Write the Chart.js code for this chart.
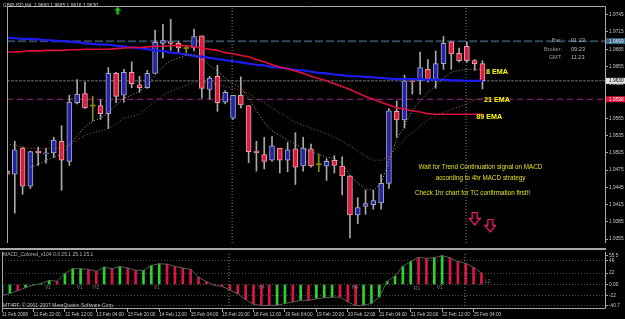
<!DOCTYPE html>
<html><head><meta charset="utf-8">
<script src="https://cdn.jsdelivr.net/npm/chart.js@4.4.0/dist/chart.umd.min.js"></script>
<style>
html,body{margin:0;padding:0;background:#000;width:625px;height:319px;overflow:hidden;}
#wa{position:absolute;left:0;top:0;width:625px;height:250px;}
#wb{position:absolute;left:0;top:248px;width:625px;height:71px;}
canvas{display:block;}
</style></head><body>
<div id="wa"><canvas id="ca" width="625" height="250"></canvas></div>
<div id="wb"><canvas id="cb" width="625" height="71"></canvas></div>
<script>
// ---------- DATA (bar index -1 .. 60, H4 GBPUSD) ----------
const firstIndex = -1;
const opens  = [1.9473,1.9468,1.9513,1.9447,1.9508,1.9503,1.9505,1.9525,1.9490,1.9592,1.9608,1.9587,1.9587,1.9573,1.9643,1.9605,1.9645,1.9623,1.9618,1.9643,1.9695,1.9698,1.9695,1.9687,1.9687,1.9708,1.9615,1.9638,1.9593,1.9565,1.9605,1.9587,1.9508,1.9502,1.9492,1.9513,1.9492,1.9512,1.9482,1.9512,1.9485,1.9482,1.9492,1.9482,1.9465,1.9397,1.9412,1.9415,1.9418,1.9452,1.9577,1.9562,1.9630,1.9630,1.9650,1.9633,1.9660,1.9698,1.9678,1.9690,1.9665,1.9660];
const highs  = [1.9485,1.9525,1.9515,1.9508,1.9515,1.9513,1.9532,1.9552,1.9605,1.9632,1.9628,1.9603,1.9597,1.9653,1.9645,1.9650,1.9663,1.9638,1.9648,1.9718,1.9728,1.9737,1.9698,1.9692,1.9720,1.9708,1.9638,1.9657,1.9613,1.9605,1.9637,1.9587,1.9525,1.9532,1.9533,1.9513,1.9523,1.9540,1.9532,1.9520,1.9503,1.9495,1.9500,1.9498,1.9465,1.9427,1.9440,1.9440,1.9467,1.9582,1.9595,1.9640,1.9633,1.9680,1.9667,1.9682,1.9707,1.9698,1.9687,1.9698,1.9667,1.9665];
const lows   = [1.9465,1.9400,1.9433,1.9443,1.9483,1.9487,1.9497,1.9440,1.9483,1.9590,1.9582,1.9560,1.9563,1.9547,1.9592,1.9593,1.9618,1.9610,1.9617,1.9643,1.9670,1.9683,1.9678,1.9675,1.9682,1.9600,1.9598,1.9577,1.9590,1.9563,1.9583,1.9488,1.9473,1.9477,1.9490,1.9470,1.9472,1.9450,1.9473,1.9480,1.9472,1.9457,1.9470,1.9432,1.9357,1.9382,1.9398,1.9407,1.9407,1.9443,1.9532,1.9548,1.9607,1.9607,1.9628,1.9617,1.9650,1.9650,1.9663,1.9662,1.9648,1.9616];
const closes = [1.9468,1.9510,1.9447,1.9507,1.9505,1.9505,1.9527,1.9492,1.9593,1.9607,1.9583,1.9587,1.9573,1.9643,1.9603,1.9645,1.9625,1.9618,1.9643,1.9697,1.9700,1.9695,1.9687,1.9687,1.9707,1.9617,1.9635,1.9592,1.9610,1.9605,1.9588,1.9507,1.9505,1.9490,1.9517,1.9492,1.9510,1.9480,1.9513,1.9482,1.9485,1.9490,1.9483,1.9465,1.9397,1.9410,1.9417,1.9422,1.9452,1.9578,1.9562,1.9630,1.9628,1.9653,1.9633,1.9660,1.9695,1.9677,1.9665,1.9665,1.9660,1.9630];

const ema8  = [null,null,null,1.9480,1.9485,1.9492,1.9497,1.9502,1.9518,1.9535,1.9550,1.9560,1.9565,1.9575,1.9588,1.9600,1.9605,1.9612,1.9622,1.9640,1.9655,1.9665,1.9670,1.9675,1.9675,1.9668,1.9657,1.9647,1.9635,1.9625,1.9618,1.9600,1.9578,1.9558,1.9543,1.9535,1.9527,1.9520,1.9512,1.9507,1.9502,1.9498,1.9495,1.9487,1.9465,1.9453,1.9442,1.9440,1.9452,1.9492,1.9528,1.9552,1.9578,1.9595,1.9610,1.9622,1.9635,1.9645,1.9648,1.9650,1.9650,1.9650];
const ema21 = [1.9520,1.9518,1.9515,1.9513,1.9512,1.9512,1.9513,1.9515,1.9518,1.9528,1.9535,1.9540,1.9543,1.9547,1.9555,1.9565,1.9568,1.9572,1.9583,1.9595,1.9605,1.9612,1.9617,1.9622,1.9628,1.9628,1.9627,1.9623,1.9620,1.9617,1.9613,1.9608,1.9598,1.9592,1.9583,1.9575,1.9567,1.9558,1.9553,1.9548,1.9543,1.9538,1.9532,1.9525,1.9517,1.9508,1.9500,1.9492,1.9492,1.9498,1.9513,1.9528,1.9540,1.9552,1.9562,1.9570,1.9575,1.9580,1.9585,1.9590,1.9597,1.9600];
const ema89 = [1.9680,1.9680,1.9681,1.9682,1.9682,1.9683,1.9683,1.9683,1.9684,1.9684,1.9685,1.9685,1.9685,1.9685,1.9686,1.9687,1.9688,1.9688,1.9689,1.9690,1.9690,1.9691,1.9692,1.9691,1.9689,1.9687,1.9685,1.9683,1.9679,1.9677,1.9674,1.9672,1.9667,1.9663,1.9658,1.9654,1.9651,1.9647,1.9643,1.9638,1.9634,1.9630,1.9625,1.9620,1.9615,1.9609,1.9603,1.9598,1.9593,1.9588,1.9583,1.9581,1.9578,1.9576,1.9573,1.9572,1.9572,1.9572,1.9572,1.9572,1.9572,1.9572];
const slowMA = [1.9705,1.9704,1.9703,1.9703,1.9702,1.9701,1.9700,1.9699,1.9698,1.9697,1.9695,1.9694,1.9693,1.9693,1.9691,1.9690,1.9688,1.9687,1.9685,1.9683,1.9682,1.9679,1.9678,1.9676,1.9673,1.9672,1.9670,1.9668,1.9666,1.9664,1.9662,1.9660,1.9658,1.9657,1.9654,1.9653,1.9651,1.9649,1.9648,1.9646,1.9644,1.9643,1.9641,1.9640,1.9638,1.9638,1.9637,1.9636,1.9635,1.9634,1.9633,1.9633,1.9633,1.9633,1.9632,1.9632,1.9632,1.9631,1.9631,1.9630,1.9630,1.9630];

const levelHigh = 1.9699;   // dashed slate line
const bidPrice  = 1.9630;   // bid line
const levelLow  = 1.9598;   // dashed magenta line
const vLines = [27.88, 57.9];

const priceTicks = [1.9745,1.9715,1.9685,1.9655,1.9625,1.9595,1.9565,1.9535,1.9505,1.9475,1.9445,1.9415,1.9385,1.9355];
const timeTickIdx = [-1,3,7,11,15,19,23,27,31,35,39,43,47,51,55,59];
const timeLabels = ['11 Feb 2008','11 Feb 20:00','12 Feb 12:00','13 Feb 04:00','13 Feb 20:00','14 Feb 12:00','15 Feb 04:00','15 Feb 20:00','18 Feb 12:00','19 Feb 04:00','19 Feb 20:00','20 Feb 12:00','21 Feb 04:00','21 Feb 20:00','22 Feb 12:00','25 Feb 04:00'];

const macdHist = [-21,-17,-12,-6,-1,2,8,6,21,30.5,30.5,29,25.5,33.6,30.5,34.8,31.7,27.4,27.4,36.7,39.8,39.2,34.8,31.7,29.3,14.3,5.6,-1.2,-3.7,-10.6,-18,-29.2,-37.9,-40.5,-40.5,-39.8,-36.7,-33.6,-30.5,-30.5,-27.4,-25.5,-24.3,-24.3,-33.6,-40.7,-39.8,-36.7,-24.3,6.2,16.2,34.8,44.2,52.2,50.4,51.6,55.5,51.6,44.2,41.0,33.0,22.4];
const macdState = ['up','up','dn','up','up','up','up','dn','up','up','up','dn','dn','up','dn','up','dn','dn','up','up','up','dn','dn','dn','dn','dn','dn','dn','dn','dn','dn','dn','dn','dn','dn','up','up','dn','up','dn','up','up','up','dn','dn','dn','up','up','up','up','up','up','up','dn','dn','up','up','dn','dn','dn','dn','dn'];
const macdTickValues = [55.5,46,22,0,-22,-40.7];
const macdTickLabels = ['55.5','46','22','0.00','-22','-40.7'];
const macdMarks = [{x:4.85,y:-6,t:'V1'},{x:8.9,y:-6,t:'V1'},{x:11,y:-6,t:'H2'},{x:18.7,y:-6,t:'V1'},{x:32,y:-6,t:'H4'},{x:43.9,y:-6,t:'H4'},{x:51.8,y:-8,t:'R1'},{x:54.7,y:-6,t:'V1'},{x:60.8,y:5,t:'L2'}];

const downSignals = [{x:59,y:1.9390},{x:61,y:1.9378}];
const upSignals = [{x:13.2,y:1.9752}];
const emaTags = [{x:60.45,y:1.9645,t:'8 EMA'},{x:60.2,y:1.95967,t:'21 EMA'},{x:59.2,y:1.95667,t:'89 EMA'}];

// ---------- RENDER ----------
const X_MIN = -1, X_MAX = 75.85;
const P_MIN = 1.93483, P_MAX = 1.97583;
const M_MIN = -47.2, M_MAX = 62.87;
const FAM = '"Liberation Sans", Arial, sans-serif';
Chart.defaults.font.family = FAM;

const xs = opens.map((_, i) => i + firstIndex);
const kind = i => closes[i] > opens[i] ? 1 : (closes[i] < opens[i] ? -1 : 0);
const BULL = '#2424a8', BEAR = '#dc1c40', DOJI = '#8c8c00';

const wickData = xs.map((x, i) => ({x, y: [lows[i], highs[i]]}));
const bodyData = xs.map((x, i) => {
  let a = Math.min(opens[i], closes[i]), b = Math.max(opens[i], closes[i]);
  if (b - a < 0.0001) { const m = (a + b) / 2; a = m - 0.00009; b = m + 0.00009; }
  return {x, y: [a, b]};
});
function lineDS(arr, color, width, dash, order) {
  return {type: 'line', data: xs.map((x, i) => ({x, y: arr[i]})), borderColor: color, borderWidth: width,
    borderDash: dash || [], pointRadius: 0, fill: false, tension: 0, order};
}
function hLine(p, color, width, dash) {
  return {type: 'line', data: [{x: X_MIN, y: p}, {x: X_MAX, y: p}], borderColor: color, borderWidth: width,
    borderDash: dash || [], pointRadius: 0, fill: false, order: 6};
}
function vLineDS(x, lo, hi) {
  return {type: 'line', data: [{x, y: lo}, {x, y: hi}], borderColor: '#8a8a8a', borderWidth: 1,
    borderDash: [1, 2], pointRadius: 0, fill: false, order: 6};
}
function downArrowImg() {
  const c = document.createElement('canvas'); c.width = 12; c.height = 14;
  const g = c.getContext('2d'); g.strokeStyle = '#e8206a'; g.lineWidth = 1.3;
  g.beginPath(); g.moveTo(3.5, 0.7); g.lineTo(8.5, 0.7); g.lineTo(8.5, 6.5); g.lineTo(11.3, 6.5);
  g.lineTo(6, 13); g.lineTo(0.7, 6.5); g.lineTo(3.5, 6.5); g.closePath(); g.stroke(); return c;
}
function upArrowImg() {
  const c = document.createElement('canvas'); c.width = 8; c.height = 9;
  const g = c.getContext('2d'); g.fillStyle = '#30c030'; g.strokeStyle = '#106010'; g.lineWidth = 0.8;
  g.beginPath(); g.moveTo(4, 0.5); g.lineTo(7.5, 4.5); g.lineTo(5.3, 4.5); g.lineTo(5.3, 8.5); g.lineTo(2.7, 8.5);
  g.lineTo(2.7, 4.5); g.lineTo(0.5, 4.5); g.closePath(); g.fill(); g.stroke(); return c;
}
function txt(ctx, s, x, y, size, color, align, weight) {
  ctx.save(); ctx.font = (weight || '') + ' ' + size + 'px ' + FAM; ctx.fillStyle = color;
  ctx.textAlign = align || 'left'; ctx.textBaseline = 'middle'; ctx.fillText(s, x, y); ctx.restore();
}

const mainPlugin = {
  id: 'mainDeco',
  afterDraw(chart) {
    const ctx = chart.ctx, a = chart.chartArea, xS = chart.scales.x, yS = chart.scales.y;
    ctx.save();
    ctx.strokeStyle = '#a8a8a8'; ctx.lineWidth = 1;
    ctx.beginPath();
    ctx.moveTo(a.left + 0.5, a.bottom); ctx.lineTo(a.left + 0.5, a.top - 0.5); ctx.lineTo(a.right - 0.5, a.top - 0.5); ctx.lineTo(a.right - 0.5, a.bottom);
    ctx.stroke();
    const boxes = [[levelHigh, '#3a6a88', '#e8e8e8'], [bidPrice, '#e4e4e4', '#000'], [levelLow, '#e0103a', '#f0f0f0']];
    boxes.forEach(([p, bg, fg]) => {
      const y = yS.getPixelForValue(p);
      ctx.fillStyle = bg; ctx.fillRect(a.right, y - 3, 19, 6);
      txt(ctx, p.toFixed(4), a.right + 3, y + 0.3, 4.8, fg);
    });
    ctx.restore();
    txt(ctx, 'GBPUSD,H4  1.9660 1.9665 1.9616 1.9630', 3, 5.5, 4.9, '#d0d0d0');
    [['Bar:', '01:23', 40], ['Broker:', '09:23', 49], ['GMT:', '11:23', 57]].forEach(([l, v, y]) => {
      txt(ctx, l, 562, y, 5.6, '#9a9a9a', 'right'); txt(ctx, v, 571, y, 5.6, '#b8b8b8');
    });
    emaTags.forEach(t => txt(ctx, t.t, xS.getPixelForValue(t.x), yS.getPixelForValue(t.y), 7.2, '#ffff00', 'left', 'bold'));
    txt(ctx, 'Wait for Trend Continuation signal on MACD', 480.5, 167, 6.3, '#e0e020', 'center');
    txt(ctx, 'according to 4hr MACD strategy', 480.5, 178, 6.3, '#e0e020', 'center');
    txt(ctx, 'Check 1hr chart for TC confirmation first!!', 472.5, 193, 6.3, '#e0e020', 'center');
  }
};

new Chart(document.getElementById('ca'), {
  type: 'bar',
  data: {datasets: [
    {type: 'line', data: downSignals, showLine: false, pointStyle: downArrowImg(), pointRadius: 6, order: 0},
    {type: 'line', data: upSignals, showLine: false, pointStyle: upArrowImg(), pointRadius: 4, order: 0},
    lineDS(ema8, '#a0a0a0', 1, [1, 2], 1),
    lineDS(ema21, '#a8601c', 1, [1, 2], 1),
    lineDS(ema89, '#e0103c', 1.6, [], 1),
    lineDS(slowMA, '#1c1cf0', 2.2, [], 1),
    {type: 'bar', data: bodyData, grouped: false, barThickness: 5, borderSkipped: false,
      backgroundColor: c => { const k = kind(c.dataIndex); return k > 0 ? BULL : (k < 0 ? BEAR : DOJI); },
      borderColor: c => { const k = kind(c.dataIndex); return k > 0 ? '#a8a8c4' : '#e8a0a8'; },
      borderWidth: c => kind(c.dataIndex) === 0 ? 0 : 1, order: 2},
    {type: 'bar', data: wickData, grouped: false, barThickness: 1, borderWidth: 0,
      backgroundColor: c => kind(c.dataIndex) === 0 ? DOJI : '#a8a8a8', order: 3},
    hLine(levelHigh, '#2e4a5e', 2, [8, 3]),
    hLine(bidPrice, '#6e6e6e', 1, [3, 1]),
    hLine(levelLow, '#a0208c', 1, [6, 4]),
    ...vLines.map(v => vLineDS(v, P_MIN, P_MAX))
  ]},
  options: {
    responsive: false, animation: false, events: [],
    layout: {padding: {left: 2, top: 2, right: 0, bottom: 2}},
    plugins: {legend: {display: false}, tooltip: {enabled: false}},
    scales: {
      x: {type: 'linear', display: false, offset: false, min: X_MIN, max: X_MAX, grid: {offset: false}},
      y: {type: 'linear', position: 'right', min: P_MIN, max: P_MAX,
        afterBuildTicks: s => { s.ticks = priceTicks.map(v => ({value: v})); },
        afterFit: s => { s.width = 19; },
        ticks: {color: '#c8c8c8', font: {size: 4.8}, padding: 1, autoSkip: false, callback: v => Number(v).toFixed(4)},
        grid: {drawOnChartArea: false, drawTicks: true, tickLength: 2, tickColor: '#a0a0a0'},
        border: {display: false}}
    }
  },
  plugins: [mainPlugin]
});

const macdPlugin = {
  id: 'macdDeco',
  afterDraw(chart) {
    const ctx = chart.ctx, a = chart.chartArea, xS = chart.scales.x, yS = chart.scales.y;
    ctx.save();
    ctx.fillStyle = '#a8a8a8'; ctx.fillRect(0, 0, a.right, 2);
    ctx.strokeStyle = '#a8a8a8'; ctx.lineWidth = 1;
    ctx.beginPath();
    ctx.moveTo(a.left + 0.5, a.top); ctx.lineTo(a.left + 0.5, a.bottom - 0.5); ctx.lineTo(a.right - 0.5, a.bottom - 0.5); ctx.lineTo(a.right - 0.5, a.top);
    ctx.stroke();
    ctx.restore();
    txt(ctx, 'MACD_Colored_v104 0.0 25.1 25.1 25.1', 3, 7, 5, '#b4b4b4');
    txt(ctx, 'MT4RF, \u00a9 2001-2007 MetaQuotes Software Corp.', 3, 58, 5, '#c0c0c0');
    macdMarks.forEach(m => txt(ctx, m.t, xS.getPixelForValue(m.x), yS.getPixelForValue(m.y), 5, '#7a7a7a', 'center'));
  }
};

const macdData = xs.map((x, i) => ({x, y: macdHist[i]}));
new Chart(document.getElementById('cb'), {
  type: 'bar',
  data: {datasets: [
    {type: 'line', data: macdData, borderColor: '#5c5c5c', borderWidth: 1, pointRadius: 0, fill: false, order: 0},
    {type: 'bar', data: macdData, grouped: false, barThickness: 2, borderWidth: 0,
      backgroundColor: c => macdState[c.dataIndex] === 'up' ? '#2ed02e' : '#dc1448', order: 1},
    ...vLines.map(v => vLineDS(v, M_MIN, M_MAX))
  ]},
  options: {
    responsive: false, animation: false, events: [],
    layout: {padding: {left: 2, top: 2, right: 0, bottom: 0}},
    plugins: {legend: {display: false}, tooltip: {enabled: false}},
    scales: {
      x: {type: 'linear', position: 'bottom', offset: false, min: X_MIN, max: X_MAX,
        afterBuildTicks: s => { s.ticks = timeTickIdx.map(v => ({value: v})); },
        afterFit: s => { s.height = 10; },
        ticks: {align: 'start', color: '#c8c8c8', font: {size: 4.7}, padding: 0, autoSkip: false, maxRotation: 0, minRotation: 0,
          callback: (v, i) => timeLabels[i]},
        grid: {offset: false, drawOnChartArea: false, drawTicks: true, tickLength: 3, tickColor: '#a0a0a0'},
        border: {display: false}},
      y: {type: 'linear', position: 'right', min: M_MIN, max: M_MAX,
        afterBuildTicks: s => { s.ticks = macdTickValues.map(v => ({value: v})); },
        afterFit: s => { s.width = 19; },
        ticks: {color: '#c8c8c8', font: {size: 4.8}, padding: 1, autoSkip: false, callback: (v, i) => macdTickLabels[i]},
        grid: {drawOnChartArea: true, drawTicks: true, tickLength: 2, tickColor: '#a0a0a0',
          color: c => c.index === 0 ? 'rgba(0,0,0,0)' : '#4e4e4e'},
        border: {display: false, dash: [1, 2]}}
    }
  },
  plugins: [macdPlugin]
});
</script>
</body></html>
